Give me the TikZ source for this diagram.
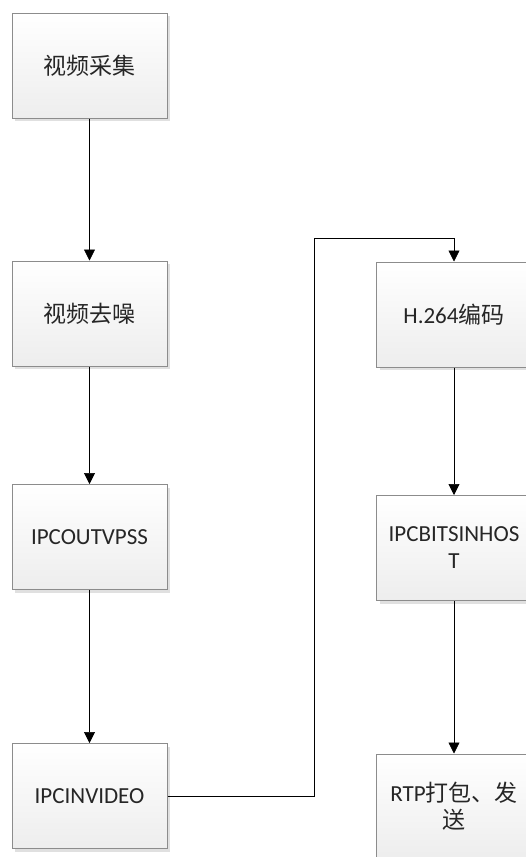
\documentclass[tikz,border=0pt]{standalone}
\usepackage{fontspec}
\setmainfont{Carlito}
\newfontfamily\cjk{Noto Sans CJK SC}
\usetikzlibrary{arrows.meta,shadows}
\newcommand{\zh}[1]{{\cjk #1}}

\begin{document}
\begin{tikzpicture}[x=1pt,y=-1pt,
    every node/.style={font=\fontsize{23}{27}\selectfont, text=black!85},
    procbox/.style={draw=black!45, line width=1pt, top color=white, bottom color=black!7,
        minimum width=155pt, minimum height=105pt, align=center,
        drop shadow={shadow xshift=3pt, shadow yshift=-3pt, fill=black!20, opacity=0.6}},
    flowline/.style={-{Triangle[width=11pt,length=11pt]}, line width=0.7pt}]
    \clip (0,0) rectangle (526,857);

    % Left column
    \node[procbox] (caiji) at (89.5,65.5) {\zh{视频采集}};
    \node[procbox] (quzao) at (89.5,313.5) {\zh{视频去噪}};
    \node[procbox] (outvpss) at (89.5,537) {IPCOUTVPSS};
    \node[procbox] (invideo) at (89.5,796) {IPCINVIDEO};

    % Right column
    \node[procbox] (h264) at (454,314.5) {H.264\zh{编码}};
    \node[procbox] (bits) at (454,548) {IPCBITSINHOS\\T};
    \node[procbox] (rtp) at (454,806.5) {RTP\zh{打包、发}\\\zh{送}};

    % Arrows
    \draw[flowline] (caiji) -- (quzao);
    \draw[flowline] (quzao) -- (outvpss);
    \draw[flowline] (outvpss) -- (invideo);
    \draw[flowline] (h264) -- (bits);
    \draw[flowline] (bits) -- (rtp);

    % Link between columns
    \coordinate (turn) at (314,238);
    \draw[flowline] (invideo.east) -| (turn) -| (h264.north);

\end{tikzpicture}
\end{document}
